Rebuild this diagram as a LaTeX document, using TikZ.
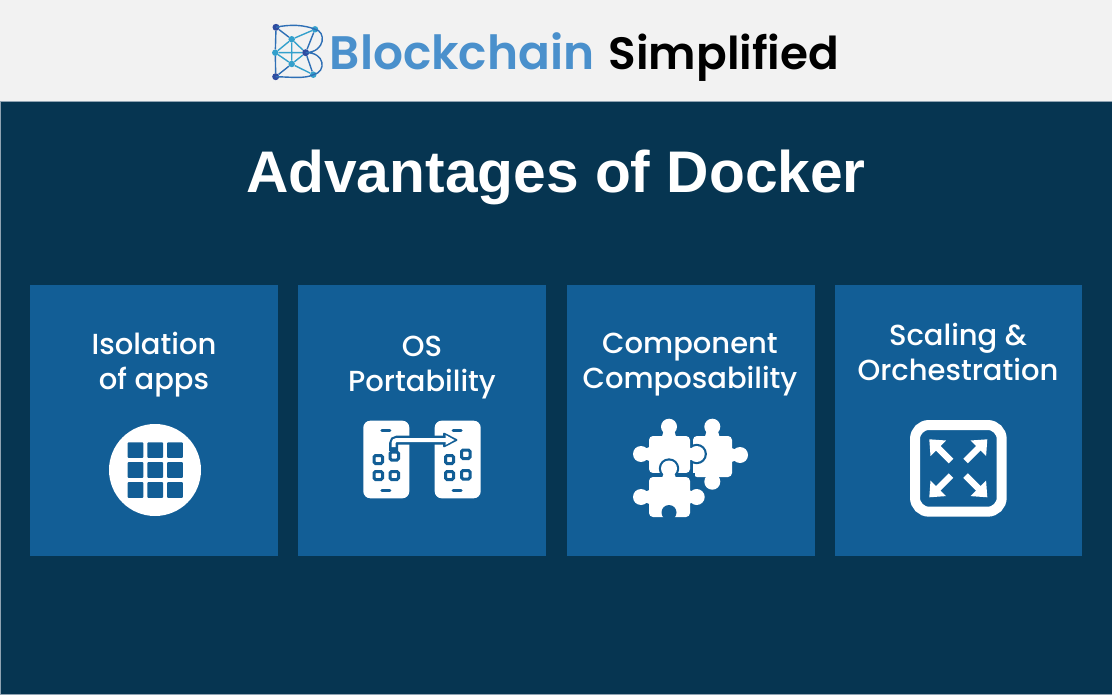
\documentclass[tikz,border=0pt]{standalone}
\usepackage{fontspec}
\setmainfont{Poppins Medium}
\newfontfamily\headfont{Poppins SemiBold}
\newfontfamily\titlefont{Liberation Sans}
\definecolor{hdr}{HTML}{F2F2F2}
\definecolor{bgd}{HTML}{063551}
\definecolor{card}{HTML}{125E96}
\definecolor{bluetxt}{HTML}{4A90CC}
\definecolor{logoa}{HTML}{2F4BA0}
\definecolor{logob}{HTML}{33A0CC}
\definecolor{logol}{HTML}{2E6FB5}
\definecolor{edgeline}{HTML}{8FA3B2}
\tikzset{
  x=1pt,y=-1pt,
  cardbox/.style={fill=card,draw=none},
  label/.style={text=white,font=\fontsize{29}{29}\selectfont,anchor=base,inner sep=0},
  lnode/.style={circle,inner sep=0,minimum size=7pt,fill=logoa},
  lnodeb/.style={circle,inner sep=0,minimum size=6.5pt,fill=logob},
  ledge/.style={draw=logol,line width=1.4pt},
  ledgeb/.style={draw=logob,line width=1.4pt},
  headtext/.style={inner sep=0,anchor=base},
}
\begin{document}
\begin{tikzpicture}
\useasboundingbox (0,0) rectangle (1112,695);
\fill[bgd] (0,0) rectangle (1112,695);
\fill[hdr] (0,0) rectangle (1112,101);
\fill[edgeline] (0,101) rectangle (1112,102);
\fill[edgeline] (0,101) rectangle (1,695);
\fill[edgeline] (0,694) rectangle (1112,695);
% logo
\node[lnode] (la) at (276,27.3) {};
\node[lnodeb] (lb) at (315,29.3) {};
\node[lnodeb] (lc) at (291.7,39.3) {};
\node[lnodeb] (ld) at (275.3,52.7) {};
\node[lnode] (le) at (305.7,52.7) {};
\node[lnodeb] (lf) at (291.7,64) {};
\node[lnode] (lg) at (275.7,76.7) {};
\node[lnodeb] (lh) at (313.3,74.7) {};
\draw[ledge] (la) -- (ld) -- (lg);
\draw[ledge] (la) -- (lc) (lf) -- (lg) (lb) -- (le) (le) -- (lh);
\draw[ledgeb] (ld) -- (lc) -- (lb) (ld) -- (lf) -- (lh) (ld) -- (le) (lc) -- (lf) (lc) -- (le) (le) -- (lf);
\draw[ledge] (la.center) .. controls (290,24) and (305,25) .. (lb.center) .. controls (326,31) and (326,52) .. (le.center) .. controls (325,52) and (327,72) .. (lh.center) .. controls (305,79) and (290,77) .. (lg.center);
\node[headtext,text=bluetxt,font=\headfont\fontsize{47}{47}\selectfont] (t1) at (462,70) {Blockchain};
\node[headtext,text=black,font=\headfont\fontsize{45.3}{45.3}\selectfont] (t2) at (724,70) {Simplified};
\node[inner sep=0,anchor=base,text=white,font=\titlefont\fontsize{58.7}{58.7}\selectfont\bfseries] (title) at (556,193) {Advantages of Docker};
% cards
\fill[cardbox] (30,285) rectangle (278,556);
\fill[cardbox] (298,285) rectangle (546,556);
\fill[cardbox] (567,285) rectangle (815,556);
\fill[cardbox] (835,285) rectangle (1082,556);
\node[label] (a1) at (154,354) {Isolation};
\node[label] (a2) at (154,389) {of apps};
\node[label] (b1) at (422,356) {OS};
\node[label] (b2) at (422,391) {Portability};
\node[label] (c1) at (690,353) {Component};
\node[label] (c2) at (690,388) {Composability};
\node[label] (d1) at (958,345) {Scaling \&};
\node[label] (d2) at (958,380) {Orchestration};
% grid icon
\fill[white] (155,470) circle[radius=46];
\foreach \xx in {127.7,147.4,167.2}\foreach \yy in {442.3,462.2,482.2}
  \fill[card,rounded corners=0.8pt] (\xx,\yy) rectangle ++(15.6,15.6);
% phones
\foreach \xx in {363.3,434.7}{
  \fill[white,rounded corners=7pt] (\xx,420.7) rectangle ++(46,77.6);
  \draw[card,line width=3pt,line cap=round] (\xx+18.5,430) -- ++(8,0);
  \draw[card,line width=3pt,line cap=round] (\xx+18.5,490) -- ++(8,0);
}
\tikzset{app/.style={draw=card,line width=3pt,rounded corners=1.6pt}}
\draw[app] (374,455.5) rectangle (382.5,463.5);
\draw[app] (390,452) rectangle (398.5,460);
\draw[app] (374,471.5) rectangle (382.5,479.5);
\draw[app] (390,471.5) rectangle (398.5,479.5);
\draw[app] (445.5,455.5) rectangle (453.5,463.5);
\draw[app] (461.5,450) rectangle (470,458.5);
\draw[app] (445.5,471.5) rectangle (453.5,479.5);
\draw[app] (461.5,470.5) rectangle (470,479);
\draw[card,line width=9pt,rounded corners=4pt] (393.5,451) -- (393.5,440) -- (448,440);
\fill[card,rounded corners=2pt] (443,432) -- (458.5,440) -- (443,448) -- cycle;
\draw[white,line width=4pt,rounded corners=3pt] (393.5,447) -- (393.5,440) -- (450,440);
\fill[white] (445.5,435) -- (454.5,440) -- (445.5,445) -- cycle;
% puzzle
\fill[white,rounded corners=4pt] (693,436) rectangle (732,477);
\fill[white] (712.3,426.7) circle[radius=8] (740,455) circle[radius=8] (712.3,481.7) circle[radius=8];
\fill[white] (707,430) -- (717.5,430) -- (720,438) -- (704.5,438) -- cycle;
\fill[white] (736,449.5) -- (736,460.5) -- (728,463) -- (728,447) -- cycle;
\fill[white] (707,479) -- (717.5,479) -- (720,475) -- (704.5,475) -- cycle;
\fill[card] (696.7,454) circle[radius=10.2];
\fill[card] (690,434) rectangle (693,480);
\fill[white,rounded corners=4pt] (649,436) rectangle (690,473);
\fill[white] (669,426.7) circle[radius=8] (641,454) circle[radius=8] (696.7,454) circle[radius=8];
\fill[white] (664,430) -- (674,430) -- (676.5,438) -- (661.5,438) -- cycle;
\fill[white] (644,449) -- (644,459) -- (651,461.5) -- (651,446.5) -- cycle;
\fill[white] (692,449) -- (692,459) -- (688,461.5) -- (688,446.5) -- cycle;
\fill[card] (669,468.5) circle[radius=10.2];
\fill[card] (645,473) rectangle (695,477);
\fill[white,rounded corners=4pt] (649,477) rectangle (690,517);
\fill[white] (669,468.5) circle[radius=8] (641,497) circle[radius=8] (696.7,497) circle[radius=8];
\fill[white] (664,473) -- (674,473) -- (676.5,479) -- (661.5,479) -- cycle;
\fill[white] (644,492) -- (644,502) -- (651,504.5) -- (651,489.5) -- cycle;
\fill[white] (693,492) -- (693,502) -- (688,504.5) -- (688,489.5) -- cycle;
\fill[card] (669,512.5) circle[radius=7.5];
\fill[card] (665,512) rectangle (673,518);
% scale icon
\draw[white,line width=10pt,rounded corners=14pt] (915,425) rectangle (1001.7,511.7);
\foreach \ang in {0,90,180,270}{
  \begin{scope}[rotate around={\ang:(958.3,468.3)}]
    \fill[white] (929.3,439.3) -- (946,440.5) -- (930.5,456) -- cycle;
    \draw[white,line width=6.5pt] (936,446) -- (951,461);
  \end{scope}
}
\end{tikzpicture}
\end{document}
